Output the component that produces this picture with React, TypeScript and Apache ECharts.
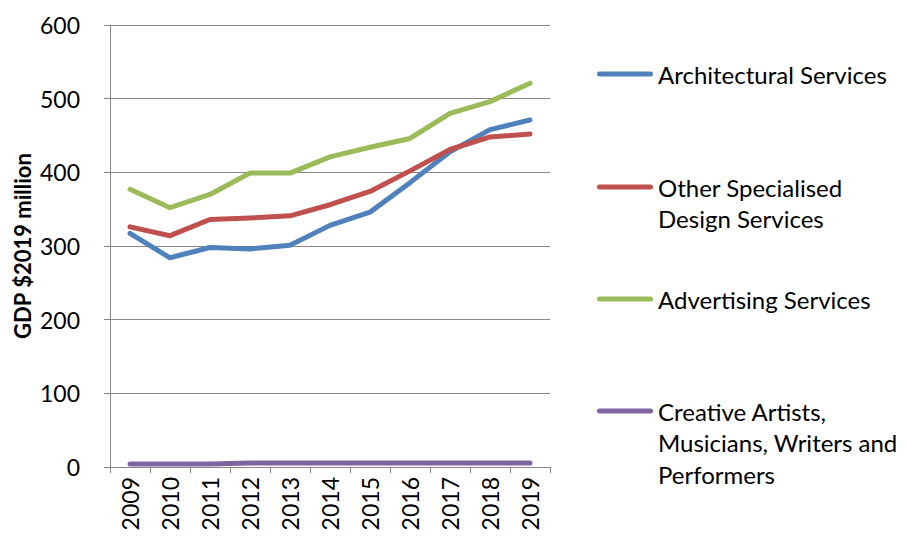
import React, { useEffect, useRef } from "react";
import * as echarts from "echarts";

const years = ["2009", "2010", "2011", "2012", "2013", "2014", "2015", "2016", "2017", "2018", "2019"];
const architectural = [317, 284, 298, 296, 301, 328, 346, 386, 428, 458, 471];
const otherDesign = [326, 314, 336, 338, 341, 356, 374, 402, 431, 448, 452];
const advertising = [377, 352, 370, 399, 399, 421, 434, 446, 480, 496, 521];
const creative = [4, 4, 4, 5.5, 5.5, 5.5, 5.5, 5.5, 5.5, 5.5, 5.5];
const seriesNames = [
  "Architectural Services",
  "Other Specialised Design Services",
  "Advertising Services",
  "Creative Artists, Musicians, Writers and Performers",
];
const legendLines = [
  ["Architectural Services"],
  ["Other Specialised", "Design Services"],
  ["Advertising Services"],
  ["Creative Artists,", "Musicians, Writers and", "Performers"],
];
const colors = ["#4F81BD", "#C0504D", "#9BBB59", "#8064A2"];

const FONT = "Lato, 'Open Sans', sans-serif";

export default function App() {
  const ref = useRef<HTMLDivElement>(null);
  useEffect(() => {
    if (!ref.current) return;
    const chart = echarts.init(ref.current, undefined, { renderer: "svg" });
    const dataSets = [architectural, otherDesign, advertising, creative];
    const firstLineCenters = [74, 187, 299, 411];
    const lineH = 31.5;
    const legends = seriesNames.map((name, i) => {
      const lines = legendLines[i];
      const blanks = lines.length - 1;
      const text = Array(blanks).fill("").concat(lines).join("\n");
      const totalLines = blanks + lines.length;
      return {
        orient: "vertical",
        left: 597,
        top: firstLineCenters[i] - (totalLines * lineH) / 2,
        padding: 0,
        itemWidth: 56,
        itemHeight: 5,
        itemGap: 0,
        selectedMode: false,
        icon: "path://M2.5,0 L53.5,0 A2.5,2.5 0 0 1 53.5,5 L2.5,5 A2.5,2.5 0 0 1 2.5,0 Z",
        data: [{ name, itemStyle: { color: colors[i] } }],
        formatter: () => text,
        textStyle: {
          fontFamily: FONT,
          fontSize: 24,
          color: "#000",
          lineHeight: lineH,
        },
      };
    });
    chart.setOption({
      animation: false,
      backgroundColor: "#fff",
      grid: { left: 110, right: 357, top: 25, bottom: 71 },
      legend: legends,
      xAxis: {
        type: "category",
        data: years,
        boundaryGap: true,
        axisLine: { lineStyle: { color: "#868686", width: 1 } },
        axisTick: { show: true, length: 6, lineStyle: { color: "#868686" } },
        axisLabel: {
          rotate: 90,
          fontFamily: FONT,
          fontSize: 23,
          color: "#000",
          margin: 10,
        },
      },
      yAxis: {
        type: "value",
        min: 0,
        max: 600,
        interval: 100,
        name: "GDP $2019 million",
        nameLocation: "middle",
        nameGap: 77,
        nameRotate: 90,
        nameTextStyle: { fontFamily: FONT, fontSize: 22, fontWeight: "bold", color: "#000" },
        axisLine: { show: true, lineStyle: { color: "#868686", width: 1 } },
        axisTick: { show: true, length: 6, lineStyle: { color: "#868686" } },
        splitLine: { show: true, lineStyle: { color: "#868686", width: 1 } },
        axisLabel: { fontFamily: FONT, fontSize: 23, color: "#000", margin: 30 },
      },
      series: seriesNames.map((name, i) => ({
        name,
        type: "line",
        data: dataSets[i],
        showSymbol: false,
        symbol: "none",
        lineStyle: { color: colors[i], width: 5, cap: "round", join: "round" },
        itemStyle: { color: colors[i] },
      })),
    });
    return () => chart.dispose();
  }, []);
  return <div ref={ref} style={{ width: 907, height: 538, position: "absolute", left: 0, top: 0 }} />;
}
